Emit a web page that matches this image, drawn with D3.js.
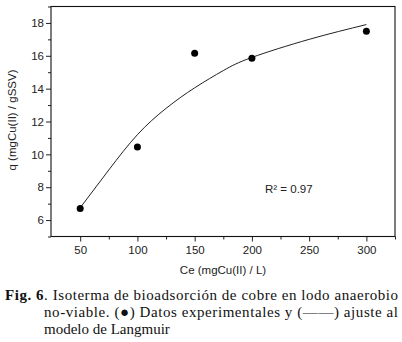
<!DOCTYPE html>
<html>
<head>
<meta charset="utf-8">
<script src="https://cdn.jsdelivr.net/npm/d3@7"></script>
<style>
  body { margin: 0; background: #fff; }
  svg { display: block; }
</style>
</head>
<body>
<svg id="chart" width="402" height="342"></svg>
<script>
// experimental points
let ceValues = [50, 100, 150, 200, 300];
let qValues = [6.7, 10.45, 16.15, 15.85, 17.5];

// langmuir fit line
let fitCe = [50, 75, 100, 125, 150, 175, 200, 250, 300];
let fitQ = [6.75, 9.05, 11.2, 12.8, 14.05, 15.1, 15.9, 17.0, 17.9];

let xTicks = [50, 100, 150, 200, 250, 300];
let yTicks = [6, 8, 10, 12, 14, 16, 18];

function chart() {
    var margin = { top: 6.5, right: 7, bottom: 105.5, left: 51 },
        width = 402 - margin.left - margin.right,
        height = 342 - margin.top - margin.bottom;

    let svg = d3.select("#chart"),
        g = svg.append("g").attr("transform", "translate(" + margin.left + "," + margin.top + ")");

    let x = d3.scaleLinear().domain([24.5, 325]).range([0, width]);
    let y = d3.scaleLinear().domain([5, 19]).range([height, 0]);

    let font = "'Liberation Sans', Arial, sans-serif";

    // minor ticks
    let xMinor = [75, 125, 175, 225, 275, 325];
    let yMinor = [5, 7, 9, 11, 13, 15, 17, 19];

    let xAxis = g.append("g")
        .attr("transform", "translate(0," + height + ")")
        .call(d3.axisBottom(x).tickValues(xTicks).tickSize(5).tickPadding(4).tickFormat(d3.format("d")));
    xAxis.select(".domain").remove();
    g.append("g")
        .attr("transform", "translate(0," + height + ")")
        .call(d3.axisBottom(x).tickValues(xMinor).tickSize(3).tickFormat(""))
        .select(".domain").remove();

    let yAxis = g.append("g")
        .call(d3.axisLeft(y).tickValues(yTicks).tickSize(5).tickPadding(2).tickFormat(d3.format("d")));
    yAxis.select(".domain").remove();
    g.append("g")
        .call(d3.axisLeft(y).tickValues(yMinor).tickSize(3).tickFormat(""))
        .select(".domain").remove();

    g.selectAll(".tick text")
        .style("font-family", font)
        .style("font-size", "11.5px")
        .attr("fill", "#222");
    g.selectAll(".tick line").attr("stroke", "#222");

    // frame
    g.append("rect")
        .attr("width", width)
        .attr("height", height)
        .attr("fill", "none")
        .attr("stroke", "#111")
        .attr("stroke-width", 1.1);

    // fit curve
    let fit = fitCe.map((c, i) => ({ c: c, q: fitQ[i] }));
    g.append("path")
        .datum(fit)
        .attr("fill", "none")
        .attr("stroke", "#222")
        .attr("stroke-width", 1)
        .attr("d", d3.line().x(d => x(d.c)).y(d => y(d.q)).curve(d3.curveNatural));

    // data points
    let pts = ceValues.map((c, i) => ({ c: c, q: qValues[i] }));
    g.selectAll(".point")
        .data(pts)
        .enter()
        .append("circle")
        .attr("class", "point")
        .attr("cx", d => x(d.c))
        .attr("cy", d => y(d.q))
        .attr("r", 3.5)
        .attr("fill", "#000");

    g.append("text")
        .attr("x", 214)
        .attr("y", 186)
        .style("font-family", font)
        .style("font-size", "11.5px")
        .attr("fill", "#222")
        .text("R² = 0.97");

    // axis titles
    svg.append("text")
        .attr("x", 223)
        .attr("y", 274)
        .attr("text-anchor", "middle")
        .style("font-family", font)
        .style("font-size", "11.5px")
        .attr("fill", "#222")
        .text("Ce (mgCu(II) / L)");

    svg.append("text")
        .attr("transform", "translate(16,120) rotate(-90)")
        .attr("text-anchor", "middle")
        .style("font-family", font)
        .style("font-size", "11.5px")
        .attr("fill", "#222")
        .text("q (mgCu(II) / gSSV)");

    // caption
    let serif = "'Liberation Serif', 'Times New Roman', serif";
    let l1 = svg.append("text")
        .attr("x", 5).attr("y", 300)
        .attr("textLength", 393).attr("lengthAdjust", "spacing")
        .style("font-family", serif).style("font-size", "15px").attr("fill", "#111");
    l1.append("tspan").attr("font-weight", "bold").text("Fig. 6");
    l1.append("tspan").text(". Isoterma de bioadsorción de cobre en lodo anaerobio");

    svg.append("text")
        .attr("x", 44).attr("y", 317)
        .attr("textLength", 354).attr("lengthAdjust", "spacing")
        .style("font-family", serif).style("font-size", "15px").attr("fill", "#111")
        .text("no-viable. (●) Datos experimentales y (——) ajuste al");

    svg.append("text")
        .attr("x", 44).attr("y", 334)
        .style("font-family", serif).style("font-size", "15px").attr("fill", "#111")
        .text("modelo de Langmuir");
}

chart();
</script>
</body>
</html>
